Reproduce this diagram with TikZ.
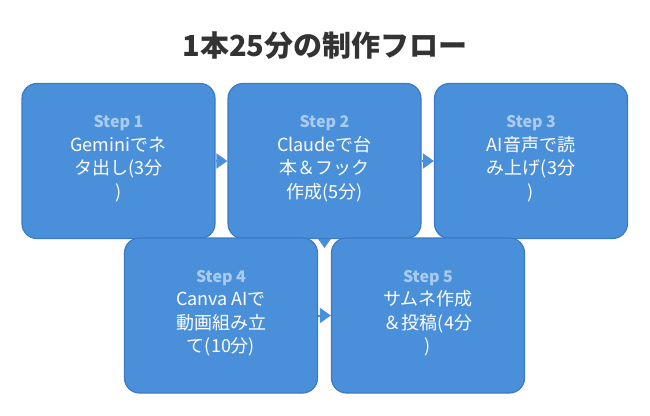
\documentclass[tikz,border=0pt]{standalone}
\usepackage{fontspec}
\setmainfont{Noto Sans CJK JP}
\usetikzlibrary{arrows.meta,backgrounds}

\definecolor{boxblue}{HTML}{4A8FD9}
\definecolor{boxedge}{HTML}{3B7BC4}
\definecolor{steplabel}{HTML}{A9CBF0}
\definecolor{titlegray}{HTML}{333333}

% small pale heading inside each box
\newcommand{\steptag}[1]{{\fontsize{16}{16}\selectfont\bfseries\color{steplabel}Step #1}}

\begin{document}
\begin{tikzpicture}[x=1pt,y=-1pt,
    stepbox/.style={draw=boxedge, fill=boxblue, line width=1.2pt, rounded corners=15pt,
        minimum width=193pt, minimum height=155pt, inner sep=0pt,
        text=white, align=center, font=\fontsize{18}{23.5}\selectfont,
        execute at end node={\rule[-8pt]{0pt}{0pt}}},
    flow/.style={-{Triangle[width=15pt,length=11pt]}, draw=boxblue, fill=boxblue, line width=2pt}]
    \useasboundingbox (0,0) rectangle (650,415);

    % Title
    \node[font=\fontsize{29}{32}\selectfont\bfseries, text=titlegray] (title) at (325,46) {1本25分の制作フロー};

    % First row
    \node[stepbox] (s1) at (118.5,161) {\steptag{1}\\Geminiでネ\\タ出し(3分\\)};
    \node[stepbox] (s2) at (324.5,161) {\steptag{2}\\Claudeで台\\本＆フック\\作成(5分)};
    \node[stepbox] (s3) at (531,161) {\steptag{3}\\AI音声で読\\み上げ(3分\\)};

    % Second row
    \node[stepbox] (s4) at (221,315.5) {\steptag{4}\\Canva AIで\\動画組み立\\て(10分)};
    \node[stepbox] (s5) at (428,315.5) {\steptag{5}\\サムネ作成\\＆投稿(4分\\)};

    % Arrows (only the tips show between the boxes)
    \coordinate (drop) at (324.5,248);
    \begin{pgfonlayer}{background}
        \draw[flow] (s1) -- (s2);
        \draw[flow] (s2) -- (s3);
        \draw[flow] (s2) -- (drop);
        \draw[flow] (s4) -- (s5);
    \end{pgfonlayer}
\end{tikzpicture}
\end{document}
